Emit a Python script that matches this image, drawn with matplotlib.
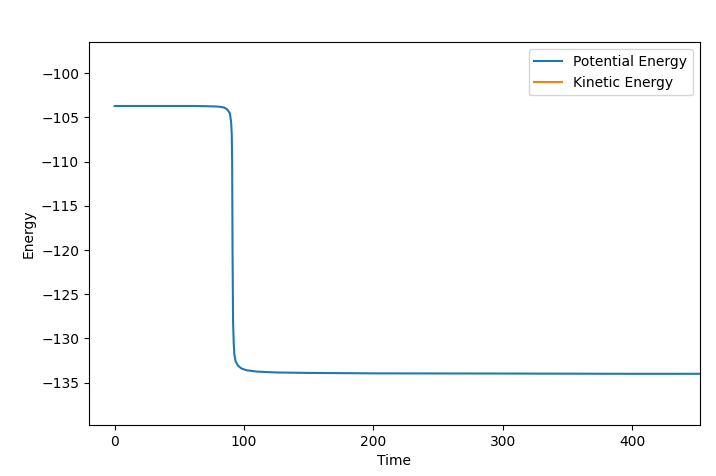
import matplotlib
matplotlib.use("Agg")
from matplotlib import pyplot as plt

# values
time = [0, 20, 40, 60, 70, 78, 82, 85, 87, 89, 90, 90.5, 90.8, 91.1, 91.5,
        92, 92.5, 93.5, 95.5, 98, 102, 110, 125, 150, 200, 300, 400, 460]
potential = [-103.7, -103.7, -103.7, -103.7, -103.72, -103.75, -103.8, -103.9,
             -104.1, -104.5, -105.5, -107, -110, -120, -128, -130.5, -131.8,
             -132.6, -133.1, -133.4, -133.6, -133.75, -133.85, -133.9, -133.95,
             -133.97, -134.0, -134.0]
# kinetic energy is off the visible range, only shows in the legend
kin_time = []
kinetic = []

fig = plt.figure(figsize=(7.16, 4.76), dpi=100)
ax = fig.add_subplot(111)
fig.subplots_adjust(left=0.124, right=0.977, bottom=0.107, top=0.911)

ax.plot(time, potential, label="Potential Energy")
ax.plot(kin_time, kinetic, label="Kinetic Energy")
ax.set_xlim(-20, 452)
ax.set_ylim(-139.8, -96.5)
ax.set_xlabel("Time")
ax.set_ylabel("Energy")
ax.legend(loc="upper right")

fig.savefig("out.png", dpi=100)
